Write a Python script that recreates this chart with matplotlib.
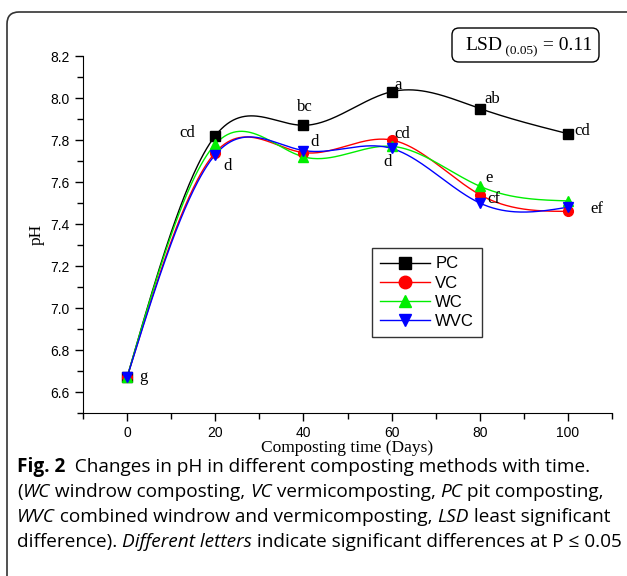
import numpy as np
import matplotlib
matplotlib.use('Agg')
import matplotlib.pyplot as plt
from matplotlib.lines import Line2D
from matplotlib.patches import FancyBboxPatch

# data
days = [0, 20, 40, 60, 80, 100]
ph_pc = [6.67, 7.82, 7.87, 8.03, 7.95, 7.83]
ph_vc = [6.67, 7.74, 7.74, 7.80, 7.54, 7.46]
ph_wc = [6.67, 7.78, 7.72, 7.77, 7.58, 7.51]
ph_wvc = [6.67, 7.73, 7.75, 7.76, 7.50, 7.48]

# significance letters: (series, day index, letter, offset in points)
letters = [
    ('PC', 1, 'cd', (-20, 2)), ('PC', 2, 'bc', (1, 13)), ('PC', 3, 'a', (5, 5)),
    ('PC', 4, 'ab', (9, 7)), ('PC', 5, 'cd', (10, 2)),
    ('VC', 3, 'cd', (8, 4)), ('WC', 4, 'e', (7, 6)),
    ('WVC', 1, 'd', (9, -8)), ('WVC', 2, 'd', (8, 6)), ('WVC', 3, 'd', (-3, -10)),
    ('WVC', 4, 'cf', (10, 3)), ('WVC', 5, 'ef', (21, -1)), ('WVC', 0, 'g', (12, 0)),
]


def natural_spline(x, y, n=300):
    x = np.asarray(x, float)
    y = np.asarray(y, float)
    k = len(x)
    h = np.diff(x)
    A = np.zeros((k, k))
    r = np.zeros(k)
    A[0, 0] = 1
    A[-1, -1] = 1
    for i in range(1, k - 1):
        A[i, i - 1] = h[i - 1]
        A[i, i] = 2 * (h[i - 1] + h[i])
        A[i, i + 1] = h[i]
        r[i] = 6 * ((y[i + 1] - y[i]) / h[i] - (y[i] - y[i - 1]) / h[i - 1])
    m = np.linalg.solve(A, r)
    xs = np.linspace(x[0], x[-1], n)
    ys = np.zeros(n)
    for j, xv in enumerate(xs):
        i = min(np.searchsorted(x, xv, side='right') - 1, k - 2)
        t1 = x[i + 1] - xv
        t0 = xv - x[i]
        ys[j] = (m[i] * t1 ** 3 / (6 * h[i]) + m[i + 1] * t0 ** 3 / (6 * h[i])
                 + (y[i] / h[i] - m[i] * h[i] / 6) * t1
                 + (y[i + 1] / h[i] - m[i + 1] * h[i] / 6) * t0)
    return xs, ys


series = {
    'PC': (ph_pc, 'black', 's', 6.5),
    'VC': (ph_vc, '#ff0000', 'o', 7),
    'WC': (ph_wc, '#00ee00', '^', 7),
    'WVC': (ph_wvc, '#0000ff', 'v', 7),
}

fig = plt.figure(figsize=(6.27, 5.76), dpi=100)
ax = fig.add_axes([83 / 627, 1 - 413 / 576, 529 / 627, 357 / 576])

handles = []
for name, (vals, col, mk, ms) in series.items():
    xs, ys = natural_spline(days, vals)
    ax.plot(xs, ys, color=col, lw=1, zorder=2)
    handles.append(Line2D([], [], color=col, lw=1, marker=mk, markersize=ms + 2))
for name, (vals, col, mk, ms) in series.items():
    ax.plot(days, vals, ls='none', marker=mk, color=col, markersize=ms, zorder=3)

for name, idx, lab, off in letters:
    vals = series[name][0]
    ax.annotate(lab, (days[idx], vals[idx]), xytext=off, textcoords='offset points',
                ha='center', va='center', fontsize=12, family='Liberation Serif')

ax.set_xlim(-10, 110)
ax.set_ylim(6.5, 8.2)
ax.set_xticks(np.arange(0, 101, 20))
ax.set_xticks(np.arange(-10, 111, 10), minor=True)
ax.set_yticks(np.arange(6.6, 8.21, 0.2))
ax.set_yticks(np.arange(6.5, 8.21, 0.1), minor=True)
ax.set_yticklabels(['%.1f' % v for v in np.arange(6.6, 8.21, 0.2)])
ax.spines['top'].set_visible(False)
ax.spines['right'].set_visible(False)
ax.tick_params(which='major', length=6, width=1, direction='out')
ax.tick_params(which='minor', length=4, width=1, direction='out')
for lab in ax.get_xticklabels() + ax.get_yticklabels():
    lab.set_family('Liberation Sans')
    lab.set_fontsize(10)

ax.set_xlabel('Composting time (Days)', family='Liberation Serif', fontsize=12.5, labelpad=0)
ax.set_ylabel('pH', family='Liberation Serif', fontsize=12.5, labelpad=4)

leg = ax.legend(handles, list(series.keys()), loc='upper left',
                bbox_to_anchor=(0.546, 0.462), borderaxespad=0, fancybox=False,
                edgecolor='black', handlelength=3, prop={'family': 'Liberation Sans', 'size': 12},
                labelspacing=0.25, handletextpad=0.3, borderpad=0.5)
leg.get_frame().set_linewidth(1)

# LSD box
lsd_box = FancyBboxPatch((4.52, 5.76 - 0.62), 1.47, 0.34,
                         boxstyle='round,pad=0,rounding_size=0.07',
                         transform=fig.dpi_scale_trans, fc='white', ec='black', lw=1)
fig.add_artist(lsd_box)

# outer rounded frame
frame = FancyBboxPatch((0.07, -0.3), 7.0, 5.64 + 0.3,
                       boxstyle='round,pad=0,rounding_size=0.12',
                       transform=fig.dpi_scale_trans, fc='none', ec='#333333', lw=1.2)
fig.add_artist(frame)

fig.canvas.draw()
renderer = fig.canvas.get_renderer()

# LSD text pieces
xp = 465
for txt, size, dy in [('LSD', 14, 0), (' (0.05)', 9.5, 4), (' = 0.11', 14, 0)]:
    t = fig.text(xp / 627, 1 - (50 + dy) / 576, txt, fontsize=size,
                 family='Liberation Serif', va='baseline', ha='left')
    xp += t.get_window_extent(renderer).width

# caption with mixed styles
caption = [
    [('Fig. 2', 'bold'), ('  Changes in pH in different composting methods with time.', 'normal')],
    [('(', 'normal'), ('WC', 'italic'), (' windrow composting, ', 'normal'), ('VC', 'italic'),
     (' vermicomposting, ', 'normal'), ('PC', 'italic'), (' pit composting,', 'normal')],
    [('WVC', 'italic'), (' combined windrow and vermicomposting, ', 'normal'), ('LSD', 'italic'),
     (' least significant', 'normal')],
    [('difference). ', 'normal'), ('Different letters', 'italic'),
     (' indicate significant differences at P \u2264 0.05', 'normal')],
]
line_y = [467, 492, 517, 542]
for parts, yp in zip(caption, line_y):
    xp = 17
    for txt, sty in parts:
        kw = dict(fontsize=13.7, family=['Open Sans', 'DejaVu Sans'], va='center', ha='left')
        if sty == 'bold':
            kw['weight'] = 'bold'
        if sty == 'italic':
            kw['style'] = 'italic'
        t = fig.text(xp / 627, 1 - yp / 576, txt, **kw)
        xp += t.get_window_extent(renderer).width

fig.savefig('out.png', dpi=100)
